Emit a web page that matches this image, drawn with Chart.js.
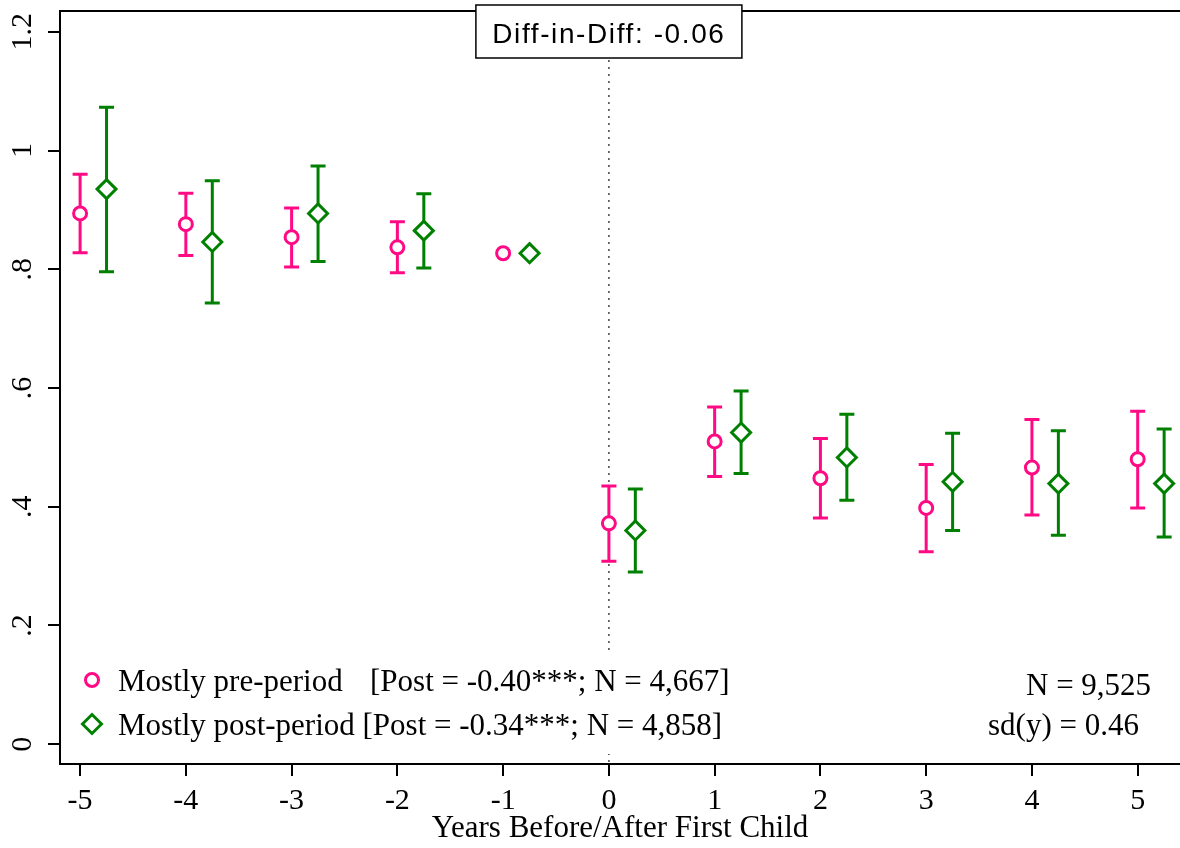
<!DOCTYPE html>
<html>
<head>
<meta charset="utf-8">
<script src="https://cdn.jsdelivr.net/npm/chart.js@4.4.1/dist/chart.umd.min.js"></script>
<style>
  body { margin: 0; background: #fff; }
  #wrap { width: 1180px; height: 848px; }
</style>
</head>
<body>
<div id="wrap"><canvas id="myChart"></canvas></div>
<script>
// data
const years = [-5, -4, -3, -2, -1, 0, 1, 2, 3, 4, 5];
const preEst  = [0.894, 0.876, 0.854, 0.837, 0.827, 0.372, 0.510, 0.448, 0.398, 0.466, 0.480];
const preLo   = [0.828, 0.823, 0.804, 0.794, null, 0.308, 0.451, 0.381, 0.324, 0.386, 0.398];
const preHi   = [0.960, 0.928, 0.903, 0.880, null, 0.435, 0.568, 0.515, 0.471, 0.547, 0.561];
const postEst = [0.935, 0.846, 0.894, 0.865, 0.827, 0.360, 0.525, 0.483, 0.442, 0.439, 0.439];
const postLo  = [0.796, 0.743, 0.813, 0.802, null, 0.290, 0.456, 0.411, 0.360, 0.352, 0.349];
const postHi  = [1.073, 0.949, 0.974, 0.927, null, 0.430, 0.595, 0.556, 0.524, 0.528, 0.531];

const yTicks = [0, 0.2, 0.4, 0.6, 0.8, 1, 1.2];
const yTickLabels = ['0', '.2', '.4', '.6', '.8', '1', '1.2'];
const xTicks = years;

const legendLabels = ['Mostly pre-period', 'Mostly post-period [Post = -0.34***; N = 4,858]'];
const legendNote = '[Post = -0.40***; N = 4,667]';
const statLines = ['N = 9,525', 'sd(y) = 0.46'];
const diffText = 'Diff-in-Diff: -0.06';

const pink = '#ff0a84';
const green = '#008000';
const shift = 0.25; // green series drawn a quarter year to the right

Chart.defaults.font.family = '"Liberation Serif", "Times New Roman", serif';
Chart.defaults.color = '#000';

function drawDiamond(ctx, x, y, r) {
    ctx.beginPath();
    ctx.moveTo(x, y - r);
    ctx.lineTo(x + r, y);
    ctx.lineTo(x, y + r);
    ctx.lineTo(x - r, y);
    ctx.closePath();
}

const extras = {
    id: 'extras',
    beforeDatasetsDraw(chart) {
        const {ctx, chartArea: a, scales: {x, y}} = chart;
        ctx.save();
        // top frame line
        ctx.strokeStyle = '#000';
        ctx.lineWidth = 2;
        ctx.beginPath();
        ctx.moveTo(a.left, a.top);
        ctx.lineTo(a.right, a.top);
        ctx.stroke();
        // dotted line at year 0
        const x0 = x.getPixelForValue(0);
        ctx.setLineDash([2, 5]);
        ctx.lineWidth = 1.5;
        ctx.strokeStyle = '#444';
        ctx.beginPath();
        ctx.moveTo(x0, a.top);
        ctx.lineTo(x0, a.bottom);
        ctx.stroke();
        ctx.setLineDash([]);
        // error bars
        chart.data.datasets.forEach(ds => {
            ctx.strokeStyle = ds.borderColor;
            ctx.lineWidth = 3;
            ds.data.forEach((p, i) => {
                if (ds.lo[i] == null) return;
                const px = x.getPixelForValue(p.x);
                const lo = y.getPixelForValue(ds.lo[i]);
                const hi = y.getPixelForValue(ds.hi[i]);
                ctx.beginPath();
                ctx.moveTo(px, lo); ctx.lineTo(px, hi);
                ctx.moveTo(px - 7.5, lo); ctx.lineTo(px + 7.5, lo);
                ctx.moveTo(px - 7.5, hi); ctx.lineTo(px + 7.5, hi);
                ctx.stroke();
            });
        });
        ctx.restore();
    },
    afterDraw(chart) {
        const {ctx, chartArea: a, scales: {x}} = chart;
        ctx.save();
        // legend panel inside the plot
        ctx.fillStyle = '#fff';
        ctx.fillRect(a.left + 2, 650, a.right - a.left - 4, 104);
        ctx.lineWidth = 3;
        ctx.strokeStyle = pink;
        ctx.beginPath();
        ctx.arc(92, 680, 6.5, 0, Math.PI * 2);
        ctx.stroke();
        ctx.strokeStyle = green;
        drawDiamond(ctx, 92, 724, 9.5);
        ctx.stroke();

        ctx.fillStyle = '#000';
        ctx.font = '31px "Liberation Serif"';
        ctx.textBaseline = 'alphabetic';
        ctx.textAlign = 'left';
        ctx.fillText(legendLabels[0], 118, 691);
        ctx.fillText(legendNote, 370, 691);
        ctx.fillText(legendLabels[1], 118, 735);
        ctx.fillText(statLines[0], 1026, 695);
        ctx.fillText(statLines[1], 988, 735);

        // diff-in-diff box at top
        const x0 = x.getPixelForValue(0);
        ctx.fillStyle = '#fff';
        ctx.fillRect(x0 - 133, 5, 266, 53);
        ctx.strokeStyle = '#000';
        ctx.lineWidth = 1.5;
        ctx.strokeRect(x0 - 133, 5, 266, 53);
        ctx.fillStyle = '#000';
        ctx.font = '28px "Liberation Sans"';
        ctx.letterSpacing = '1.6px';
        ctx.textAlign = 'center';
        ctx.fillText(diffText, x0, 43);
        ctx.restore();
    }
};

const ctx = document.getElementById('myChart').getContext('2d');
const myChart = new Chart(ctx, {
    type: 'scatter',
    data: {
        datasets: [{
            label: 'Mostly pre-period',
            data: years.map((v, i) => ({x: v, y: preEst[i]})),
            lo: preLo,
            hi: preHi,
            pointStyle: 'circle',
            pointRadius: 6.5,
            borderWidth: 3,
            borderColor: pink,
            backgroundColor: '#fff'
        }, {
            label: 'Mostly post-period',
            data: years.map((v, i) => ({x: v + shift, y: postEst[i]})),
            lo: postLo,
            hi: postHi,
            pointStyle: 'rectRot',
            pointRadius: 9.5,
            borderWidth: 3,
            borderColor: green,
            backgroundColor: '#fff'
        }]
    },
    options: {
        responsive: true,
        maintainAspectRatio: false,
        animation: false,
        layout: { autoPadding: false, padding: { top: 11, right: 0, left: 0, bottom: 0 } },
        plugins: {
            legend: { display: false },
            tooltip: { enabled: false }
        },
        scales: {
            x: {
                type: 'linear',
                min: -5.19,
                max: 5.4,
                afterBuildTicks: s => { s.ticks = xTicks.map(v => ({value: v})); },
                afterFit: s => { s.height = 84; s.paddingLeft = 0; s.paddingRight = 0; },
                grid: { drawOnChartArea: false, drawTicks: true, tickLength: 12, color: '#000', lineWidth: 2 },
                border: { display: true, color: '#000', width: 2 },
                ticks: { font: { size: 30 }, padding: 7, callback: v => String(v) },
                title: {
                    display: true,
                    text: 'Years Before/After First Child',
                    font: { size: 31 },
                    padding: { top: 0, bottom: 1 }
                }
            },
            y: {
                min: -0.0333,
                max: 1.235,
                afterBuildTicks: s => { s.ticks = yTicks.map(v => ({value: v})); },
                afterFit: s => { s.width = 60; s.paddingTop = 0; s.paddingBottom = 0; },
                grid: { drawOnChartArea: false, drawTicks: true, tickLength: 12, color: '#000', lineWidth: 2 },
                border: { display: true, color: '#000', width: 2 },
                ticks: {
                    font: { size: 30 },
                    padding: 6,
                    minRotation: 90,
                    maxRotation: 90,
                    crossAlign: 'center',
                    callback: v => yTickLabels[yTicks.indexOf(v)]
                }
            }
        }
    },
    plugins: [extras]
});
</script>
</body>
</html>
